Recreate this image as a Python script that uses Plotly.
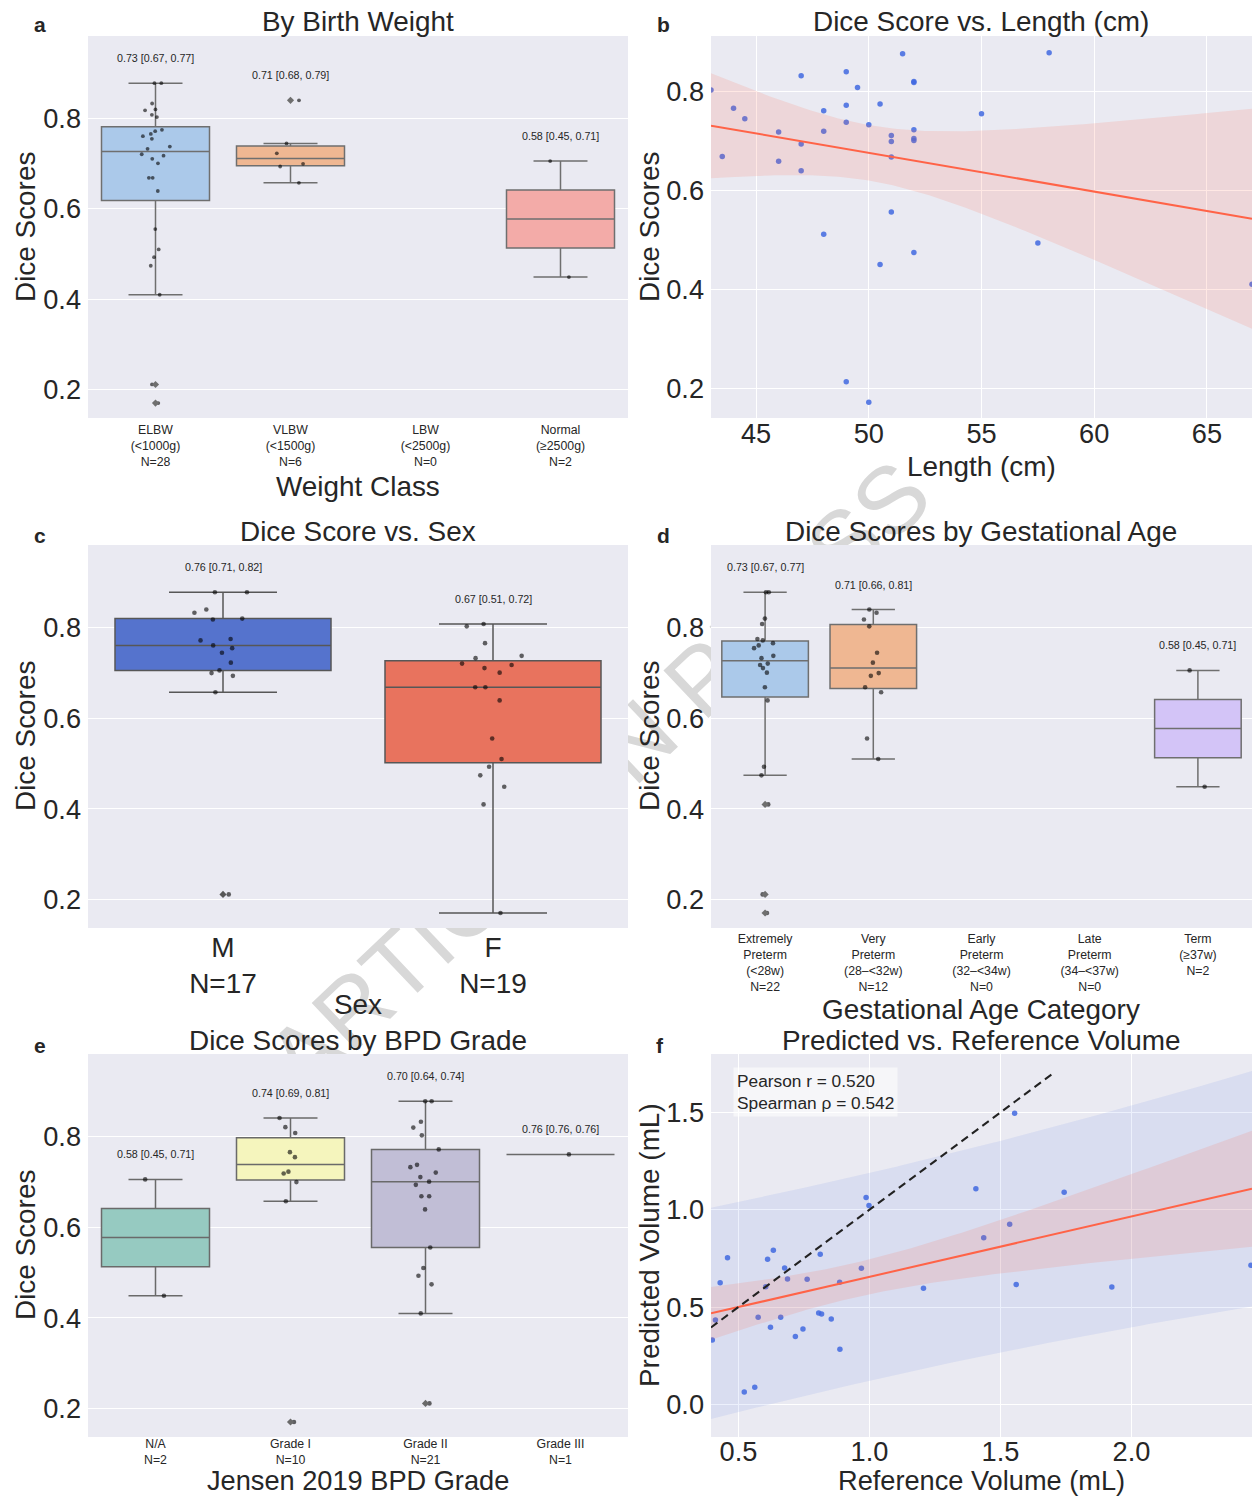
import numpy as np
import plotly.graph_objects as go

# ======================= DATA =======================
# (a) Dice by birth-weight class
weight_labels = ["ELBW<br>(&lt;1000g)<br>N=28", "VLBW<br>(&lt;1500g)<br>N=6",
                 "LBW<br>(&lt;2500g)<br>N=0", "Normal<br>(≥2500g)<br>N=2"]
dice_elbw = [0.877, 0.877, 0.832, 0.819, 0.817, 0.807, 0.802, 0.774, 0.771, 0.765,
             0.760, 0.754, 0.737, 0.732, 0.720, 0.717, 0.710, 0.700, 0.668, 0.668,
             0.639, 0.555, 0.510, 0.493, 0.474, 0.410, 0.212, 0.171]
dice_vlbw = [0.839, 0.744, 0.722, 0.699, 0.693, 0.657]
dice_lbw = []
dice_normal = [0.705, 0.449]
weight_ci = ["0.73 [0.67, 0.77]", "0.71 [0.68, 0.79]", "", "0.58 [0.45, 0.71]"]

# (b) Dice vs length
length_cm = [43.0, 44.0, 44.5, 43.5, 46.0, 46.0, 47.0, 47.0, 47.0, 48.0, 48.0, 48.0,
             49.0, 49.0, 49.0, 49.0, 49.5, 50.0, 50.0, 50.5, 50.5, 51.0, 51.0, 51.0,
             51.0, 51.5, 52.0, 52.0, 52.0, 52.0, 52.0, 52.0, 55.0, 57.5, 58.0, 67.0]
dice_by_length = [0.802, 0.765, 0.744, 0.668, 0.717, 0.658, 0.831, 0.693, 0.639, 0.760,
                  0.719, 0.511, 0.839, 0.771, 0.737, 0.213, 0.807, 0.732, 0.172, 0.774,
                  0.450, 0.710, 0.698, 0.667, 0.556, 0.875, 0.819, 0.817, 0.722, 0.704,
                  0.700, 0.474, 0.754, 0.493, 0.877, 0.410]

# (c) Dice by sex
sex_labels = ["M<br>N=17", "F<br>N=19"]
dice_male = [0.877, 0.877, 0.839, 0.832, 0.819, 0.817, 0.774, 0.771, 0.760, 0.754,
             0.744, 0.722, 0.705, 0.699, 0.693, 0.657, 0.212]
dice_female = [0.807, 0.802, 0.765, 0.737, 0.732, 0.720, 0.717, 0.710, 0.700, 0.668,
               0.668, 0.639, 0.555, 0.510, 0.493, 0.474, 0.449, 0.410, 0.171]
sex_ci = ["0.76 [0.71, 0.82]", "0.67 [0.51, 0.72]"]

# (d) Dice by gestational age
ga_labels = ["Extremely<br>Preterm<br>(&lt;28w)<br>N=22", "Very<br>Preterm<br>(28–&lt;32w)<br>N=12",
             "Early<br>Preterm<br>(32–&lt;34w)<br>N=0", "Late<br>Preterm<br>(34–&lt;37w)<br>N=0",
             "Term<br>(≥37w)<br>N=2"]
dice_extremely = [0.877, 0.877, 0.819, 0.807, 0.774, 0.771, 0.765, 0.760, 0.754, 0.737,
                  0.732, 0.720, 0.717, 0.710, 0.700, 0.668, 0.639, 0.493, 0.474, 0.410,
                  0.212, 0.171]
dice_very = [0.839, 0.832, 0.817, 0.802, 0.744, 0.722, 0.699, 0.693, 0.668, 0.657,
             0.555, 0.510]
dice_early = []
dice_late = []
dice_term = [0.705, 0.449]
ga_ci = ["0.73 [0.67, 0.77]", "0.71 [0.66, 0.81]", "", "", "0.58 [0.45, 0.71]"]

# (e) Dice by BPD grade
bpd_labels = ["N/A<br>N=2", "Grade I<br>N=10", "Grade II<br>N=21", "Grade III<br>N=1"]
dice_na = [0.705, 0.449]
dice_g1 = [0.840, 0.820, 0.807, 0.765, 0.754, 0.722, 0.718, 0.699, 0.657, 0.171]
dice_g2 = [0.877, 0.877, 0.832, 0.819, 0.802, 0.771, 0.737, 0.732, 0.720, 0.710,
           0.700, 0.693, 0.668, 0.668, 0.639, 0.555, 0.510, 0.493, 0.474, 0.410, 0.212]
dice_g3 = [0.760]
bpd_ci = ["0.58 [0.45, 0.71]", "0.74 [0.69, 0.81]", "0.70 [0.64, 0.74]", "0.76 [0.76, 0.76]"]

# (f) Predicted vs reference volume
ref_vol = [0.400, 0.412, 0.430, 0.458, 0.522, 0.562, 0.575, 0.604, 0.611, 0.622,
           0.633, 0.661, 0.676, 0.687, 0.717, 0.746, 0.762, 0.806, 0.812, 0.817,
           0.854, 0.886, 0.887, 0.969, 0.987, 0.998, 1.206, 1.406, 1.436, 1.535,
           1.554, 1.560, 1.743, 1.925, 2.456]
pred_vol = [0.330, 0.433, 0.625, 0.753, 0.063, 0.087, 0.447, 0.604, 0.745, 0.396,
            0.791, 0.447, 0.700, 0.644, 0.348, 0.387, 0.642, 0.469, 0.771, 0.464,
            0.438, 0.627, 0.283, 0.699, 1.063, 1.021, 0.596, 1.108, 0.856, 0.925,
            1.495, 0.615, 1.089, 0.603, 0.714]
identity_span = [0.395, 1.70]
corr_lines = ["Pearson r = 0.520", "Spearman ρ = 0.542"]

# ======================= STYLE =======================
W, H = 1252, 1498
FONT = "Liberation Sans"
TXT = "#262626"
PANEL_BG = "#eaeaf2"
TICK = 27.2
LABEL = 27.9
T95 = 2.03

pastel = ["#abc9ea", "#efb792", "#97d8a7", "#f3aba8", "#d3c4f7"]
sex_cols = ["#5573cd", "#e8735e"]
set3 = ["#96cac1", "#f5f5bd", "#c1bed6", "#f0998f"]

XL = [88 / W, 628 / W]
XR = [711 / W, 1.0]
Y1 = [1 - 418 / H, 1 - 36 / H]
Y2 = [1 - 928 / H, 1 - 545 / H]
Y3 = [1 - 1437 / H, 1 - 1054 / H]

fig = go.Figure()


def ax_ids(n):
    return ("x" if n == 1 else f"x{n}"), ("y" if n == 1 else f"y{n}")


def box_panel(n, groups, colors, line_col, ci_texts, pt_size):
    xa, ya = ax_ids(n)
    for i, (vals, col, txt) in enumerate(zip(groups, colors, ci_texts)):
        if len(vals) == 0:
            continue
        v = np.asarray(vals, float)
        q1, med, q3 = np.percentile(v, [25, 50, 75])
        iqr = q3 - q1
        inside = v[(v >= q1 - 1.5 * iqr) & (v <= q3 + 1.5 * iqr)]
        out = v[(v < q1 - 1.5 * iqr) | (v > q3 + 1.5 * iqr)]
        fig.add_trace(go.Box(
            x=[i], q1=[q1], median=[med], q3=[q3],
            lowerfence=[inside.min()], upperfence=[inside.max()],
            orientation="v", width=0.8, whiskerwidth=0.5, boxpoints=False,
            fillcolor=col, line=dict(color=line_col, width=1.5),
            xaxis=xa, yaxis=ya, showlegend=False, hoverinfo="skip"))
        if len(out):
            fig.add_trace(go.Scatter(
                x=[i] * len(out), y=out, mode="markers",
                marker=dict(symbol="diamond", size=5.5, color=line_col),
                xaxis=xa, yaxis=ya, showlegend=False, hoverinfo="skip"))
        fig.add_trace(go.Box(
            x=[i] * len(v), y=v, orientation="v", width=0.8,
            boxpoints="all", jitter=0.3, pointpos=0,
            fillcolor="rgba(0,0,0,0)", line=dict(color="rgba(0,0,0,0)", width=0),
            marker=dict(size=pt_size, color="rgba(0,0,0,0.6)"),
            xaxis=xa, yaxis=ya, showlegend=False, hoverinfo="skip"))
        if txt:
            fig.add_annotation(x=i, y=v.max(), xref=xa, yref=ya, text=txt,
                               showarrow=False, yshift=25, yanchor="middle",
                               font=dict(size=10.7, color=TXT, family=FONT))


def fit_bands(x, y, xs):
    x = np.asarray(x, float)
    y = np.asarray(y, float)
    n = len(x)
    b1, b0 = np.polyfit(x, y, 1)
    resid = y - (b0 + b1 * x)
    s = np.sqrt((resid ** 2).sum() / (n - 2))
    sxx = ((x - x.mean()) ** 2).sum()
    yhat = b0 + b1 * xs
    h_mean = T95 * s * np.sqrt(1 / n + (xs - x.mean()) ** 2 / sxx)
    h_pred = T95 * s * np.sqrt(1 + 1 / n + (xs - x.mean()) ** 2 / sxx)
    return yhat, h_mean, h_pred


def band(xa, ya, xs, lo, hi, color):
    fig.add_trace(go.Scatter(
        x=np.concatenate([xs, xs[::-1]]), y=np.concatenate([hi, lo[::-1]]),
        fill="toself", fillcolor=color, line=dict(width=0), mode="lines",
        xaxis=xa, yaxis=ya, showlegend=False, hoverinfo="skip"))


# ---- (a)
box_panel(1, [dice_elbw, dice_vlbw, dice_lbw, dice_normal], pastel[:4], "#6f6f6f", weight_ci, 3.8)

# ---- (b)
xb_rng = [43.0, 67.0]
fig.add_trace(go.Scatter(x=length_cm, y=dice_by_length, mode="markers",
                         marker=dict(size=5.5, color="rgba(65,105,225,0.85)"),
                         xaxis="x2", yaxis="y2", showlegend=False))
xs_b = np.linspace(xb_rng[0], xb_rng[1], 120)
yh_b, hm_b, _ = fit_bands(length_cm, dice_by_length, xs_b)
band("x2", "y2", xs_b, yh_b - hm_b, yh_b + hm_b, "rgba(255,99,71,0.15)")
fig.add_trace(go.Scatter(x=xs_b, y=yh_b, mode="lines", line=dict(color="#ff6347", width=2),
                         xaxis="x2", yaxis="y2", showlegend=False))

# ---- (c)
box_panel(3, [dice_male, dice_female], sex_cols, "#575757", sex_ci, 4.6)

# ---- (d)
box_panel(4, [dice_extremely, dice_very, dice_early, dice_late, dice_term], pastel, "#6f6f6f", ga_ci, 4.6)

# ---- (e)
box_panel(5, [dice_na, dice_g1, dice_g2, dice_g3], set3, "#6a6a6a", bpd_ci, 4.6)

# ---- (f)
xf_rng = [0.395, 2.46]
fig.add_trace(go.Scatter(x=ref_vol, y=pred_vol, mode="markers",
                         marker=dict(size=5.5, color="rgba(65,105,225,0.85)"),
                         xaxis="x6", yaxis="y6", showlegend=False))
xs_f = np.linspace(xf_rng[0], xf_rng[1], 120)
yh_f, hm_f, hp_f = fit_bands(ref_vol, pred_vol, xs_f)
band("x6", "y6", xs_f, yh_f - hp_f, yh_f + hp_f, "rgba(65,105,225,0.10)")
band("x6", "y6", xs_f, yh_f - hm_f, yh_f + hm_f, "rgba(255,99,71,0.15)")
fig.add_trace(go.Scatter(x=xs_f, y=yh_f, mode="lines", line=dict(color="#ff6347", width=2),
                         xaxis="x6", yaxis="y6", showlegend=False))
fig.add_trace(go.Scatter(x=identity_span, y=identity_span, mode="lines",
                         line=dict(color="#222222", width=2, dash="8px,5px"),
                         xaxis="x6", yaxis="y6", showlegend=False))

# ======================= AXES =======================
tick_big = dict(size=TICK, color=TXT, family=FONT)
tick_sex = dict(size=28, color=TXT, family=FONT)
tick_small = dict(size=12.3, color=TXT, family=FONT)


def xaxis(dom, anchor, **kw):
    d = dict(domain=dom, anchor=anchor, showline=False, zeroline=False, ticks="",
             gridcolor="white", gridwidth=1.3, fixedrange=True)
    d.update(kw)
    return d


def yaxis(dom, anchor, **kw):
    d = dict(domain=dom, anchor=anchor, showline=False, zeroline=False, ticks="",
             gridcolor="white", gridwidth=1.3, fixedrange=True, tickfont=tick_big,
             ticklabelstandoff=6)
    d.update(kw)
    return d


dice_ticks = [0.2, 0.4, 0.6, 0.8]
dice_tick_text = ["0.2", "0.4", "0.6", "0.8"]
dice_rng = [0.138, 0.981]
layout = dict(
    xaxis=xaxis(XL, "y", range=[-0.5, 3.5], tickvals=list(range(4)), ticktext=weight_labels,
                showgrid=False, tickfont=tick_small, ticklabelstandoff=3),
    yaxis=yaxis(Y1, "x", range=dice_rng, tickvals=dice_ticks, ticktext=dice_tick_text),
    xaxis2=xaxis(XR, "y2", range=xb_rng, tickvals=[45, 50, 55, 60, 65], showgrid=True,
                 tickfont=tick_big, ticklabelstandoff=-3),
    yaxis2=yaxis(Y1, "x2", range=[0.140, 0.911], tickvals=dice_ticks, ticktext=dice_tick_text),
    xaxis3=xaxis(XL, "y3", range=[-0.5, 1.5], tickvals=[0, 1], ticktext=sex_labels,
                 showgrid=False, tickfont=tick_sex),
    yaxis3=yaxis(Y2, "x3", range=dice_rng, tickvals=dice_ticks, ticktext=dice_tick_text),
    xaxis4=xaxis(XR, "y4", range=[-0.5, 4.5], tickvals=list(range(5)), ticktext=ga_labels,
                 showgrid=False, tickfont=tick_small, ticklabelstandoff=2),
    yaxis4=yaxis(Y2, "x4", range=dice_rng, tickvals=dice_ticks, ticktext=dice_tick_text),
    xaxis5=xaxis(XL, "y5", range=[-0.5, 3.5], tickvals=list(range(4)), ticktext=bpd_labels,
                 showgrid=False, tickfont=tick_small, ticklabelstandoff=-2),
    yaxis5=yaxis(Y3, "x5", range=dice_rng, tickvals=dice_ticks, ticktext=dice_tick_text),
    xaxis6=xaxis(XR, "y6", range=xf_rng, tickvals=[0.5, 1.0, 1.5, 2.0],
                 ticktext=["0.5", "1.0", "1.5", "2.0"], showgrid=True, tickfont=tick_big,
                 ticklabelstandoff=-4),
    yaxis6=yaxis(Y3, "x6", range=[-0.168, 1.80], tickvals=[0.0, 0.5, 1.0, 1.5],
                 ticktext=["0.0", "0.5", "1.0", "1.5"]),
)
fig.update_layout(**layout)

# ======================= BACKGROUNDS + WATERMARK =======================
shapes = []
cx, cy, ang = 592, 770, np.deg2rad(43.4)
L = 460
shapes.append(dict(
    type="line", xref="paper", yref="paper", layer="below",
    x0=(cx - L * np.cos(ang)) / W, y0=1 - (cy + L * np.sin(ang)) / H,
    x1=(cx + L * np.cos(ang)) / W, y1=1 - (cy - L * np.sin(ang)) / H,
    line=dict(color="rgba(0,0,0,0)", width=1),
    label=dict(text="ARTICLE IN PRESS", textposition="middle", yanchor="middle",
               font=dict(size=95, color="#d8d8d8", family=FONT))))
for xd in (XL, XR):
    for yd in (Y1, Y2, Y3):
        shapes.append(dict(type="rect", xref="paper", yref="paper", layer="below",
                           x0=xd[0], x1=xd[1], y0=yd[0], y1=yd[1],
                           fillcolor=PANEL_BG, line=dict(width=0)))
fig.update_layout(shapes=shapes)


# ======================= TEXT =======================
def ann(text, x_px, y_px, size, angle=0, xanchor="center", yanchor="middle", **kw):
    fig.add_annotation(text=text, x=x_px / W, y=1 - y_px / H, xref="paper", yref="paper",
                       showarrow=False, textangle=angle, xanchor=xanchor, yanchor=yanchor,
                       font=dict(size=size, color=TXT, family=FONT), **kw)


titles = [("By Birth Weight", 358, 22), ("Dice Score vs. Length (cm)", 981, 22),
          ("Dice Score vs. Sex", 358, 531), ("Dice Scores by Gestational Age", 981, 531),
          ("Dice Scores by BPD Grade", 358, 1040), ("Predicted vs. Reference Volume", 981, 1040)]
for t, x, y in titles:
    ann(t, x, y, LABEL)

letters = [("a", 40, 25), ("b", 663, 25), ("c", 40, 535), ("d", 663, 535), ("e", 40, 1045), ("f", 660, 1045)]
for t, x, y in letters:
    ann(f"<b>{t}</b>", x, y, 21)

xtitles = [("Weight Class", 358, 486), ("Length (cm)", 981, 467), ("Sex", 358, 1004),
           ("Gestational Age Category", 981, 1009)]
for t, x, y in xtitles:
    ann(t, x, y, LABEL)
# bottom-row axis titles sit on the lower edge of the figure
ann("Jensen 2019 BPD Grade", 358, 1498, 27.2, yanchor="bottom")
ann("Reference Volume (mL)", 981, 1498, 27.2, yanchor="bottom")

ytitles = [("Dice Scores", 25, 227), ("Dice Scores", 649, 227), ("Dice Scores", 25, 736),
           ("Dice Scores", 649, 736), ("Dice Scores", 25, 1245), ("Predicted Volume (mL)", 649, 1245)]
for t, x, y in ytitles:
    ann(t, x, y, LABEL, angle=-90)

ann("<br>".join(corr_lines), 733, 1067, 17.3, xanchor="left", yanchor="top", align="left",
    bgcolor="rgba(255,255,255,0.55)", borderpad=3)

fig.update_layout(width=W, height=H, margin=dict(l=0, r=0, t=0, b=0),
                  paper_bgcolor="white", plot_bgcolor="rgba(0,0,0,0)",
                  boxmode="overlay", showlegend=False,
                  font=dict(family=FONT, color=TXT))
fig.write_html("out.html", config={"displayModeBar": False},
               post_script="document.body.style.margin='0px';document.body.style.overflow='hidden';")
